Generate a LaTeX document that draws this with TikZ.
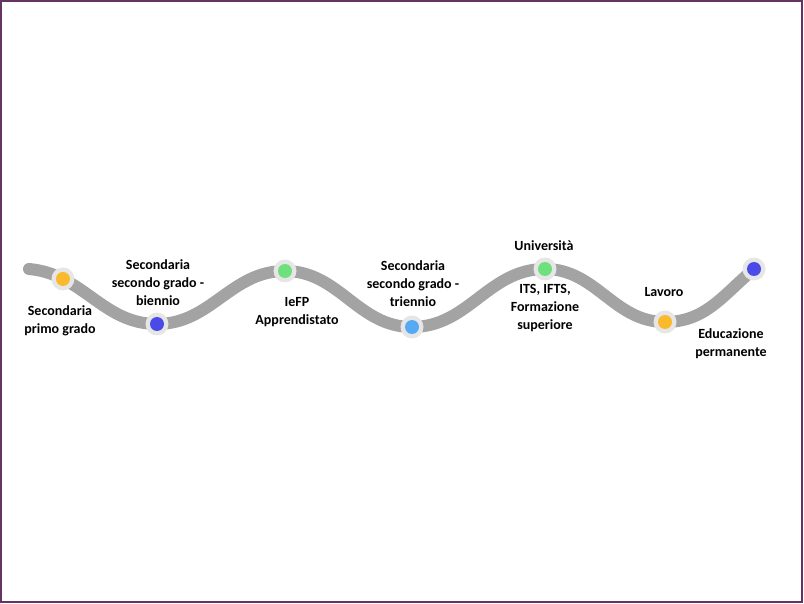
\documentclass[tikz,border=0pt]{standalone}
\usepackage{fontspec}
\setmainfont{Carlito}
\usepackage{xcolor}
\usetikzlibrary{positioning,calc}

\definecolor{framepurple}{HTML}{663366}
\definecolor{wavegray}{HTML}{A3A3A3}
\definecolor{halogray}{HTML}{E6E6E6}
\definecolor{stepyellow}{HTML}{FBB92C}
\definecolor{stepblue}{HTML}{4A4AE8}
\definecolor{stepgreen}{HTML}{6EE07E}
\definecolor{stepsky}{HTML}{56AAF4}

\begin{document}
\begin{tikzpicture}[
    x=1pt, y=-1pt,
    wave/.style={draw=wavegray, line width=12pt, line cap=round},
    stop/.style={circle, fill=halogray, minimum size=23pt, inner sep=0pt},
    dot/.style={circle, fill=#1, minimum size=14pt, inner sep=0pt},
    label/.style={align=center, text=black, font=\fontsize{14}{18}\selectfont\bfseries}
]
\useasboundingbox (0,0) rectangle (804,604);
\draw[framepurple, line width=2pt] (1,1) rectangle (802,602);

% path of the timeline
\coordinate (start) at (29,269);
\coordinate (c2) at (157,324);
\coordinate (c3) at (285,271);
\coordinate (c4) at (412,327);
\coordinate (c5) at (545,269);
\coordinate (c6) at (665,322);
\coordinate (c7) at (754,269);

\draw[wave] (start) to[out=-5,in=180] coordinate[pos=0.24] (c1) (c2)
    to[out=0,in=180] (c3)
    to[out=0,in=180] (c4)
    to[out=0,in=180] (c5)
    to[out=0,in=180] (c6)
    to[out=0,in=220] (c7);

% stops
\node[stop] (s1) at (c1) {};
\node[dot=stepyellow] (d1) at (c1) {};
\node[stop] (s2) at (c2) {};
\node[dot=stepblue] (d2) at (c2) {};
\node[stop] (s3) at (c3) {};
\node[dot=stepgreen] (d3) at (c3) {};
\node[stop] (s4) at (c4) {};
\node[dot=stepsky] (d4) at (c4) {};
\node[stop] (s5) at (c5) {};
\node[dot=stepgreen] (d5) at (c5) {};
\node[stop] (s6) at (c6) {};
\node[dot=stepyellow] (d6) at (c6) {};
\node[stop] (s7) at (c7) {};
\node[dot=stepblue] (d7) at (c7) {};

% labels
\node[label] (l1) at (60,321) {Secondaria\\primo grado};
\node[label] (l2) at (158,283) {Secondaria\\secondo grado -\\biennio};
\node[label] (l3) at (297,312) {IeFP\\Apprendistato};
\node[label] (l4) at (413,284) {Secondaria\\secondo grado -\\triennio};
\node[label] (l5) at (544,246) {Università};
\node[label] (l6) at (545,308) {ITS, IFTS,\\Formazione\\superiore};
\node[label] (l7) at (664,292) {Lavoro};
\node[label] (l8) at (731,344) {Educazione\\permanente};
\end{tikzpicture}
\end{document}
